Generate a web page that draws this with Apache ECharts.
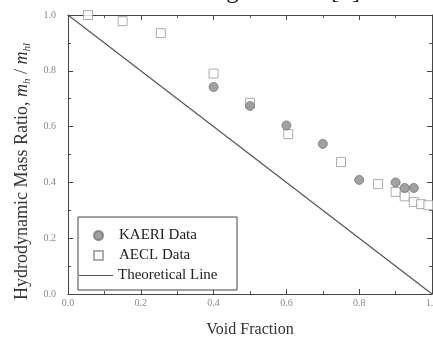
<!DOCTYPE html>
<html>
<head>
<meta charset="utf-8">
<script src="https://cdn.jsdelivr.net/npm/echarts@6/dist/echarts.min.js"></script>
<style>
  html, body { margin: 0; padding: 0; background: #fff; }
  #chart { width: 433px; height: 337px; }
</style>
</head>
<body>
<div id="chart"></div>
<script>
// KAERI measurements (void fraction, mass ratio)
const kaeriX = [0.40, 0.50, 0.60, 0.70, 0.80, 0.90, 0.925, 0.95]
const kaeriY = [0.742, 0.674, 0.604, 0.538, 0.409, 0.400, 0.380, 0.380]
// AECL measurements
const aeclX = [0.055, 0.15, 0.255, 0.40, 0.50, 0.605, 0.75, 0.852, 0.90, 0.925, 0.95, 0.97, 0.99]
const aeclY = [1.00, 0.978, 0.935, 0.790, 0.685, 0.573, 0.473, 0.394, 0.366, 0.350, 0.330, 0.322, 0.318]
// theoretical line m_h/m_hl = 1 - alpha
const theoryX = [0, 1]
const theoryY = [1, 0]

const font = 'Liberation Serif'
const chart = echarts.init(document.getElementById('chart'))

function pairs(xs, ys) {
  return xs.map((x, i) => [x, ys[i]])
}

const axisCommon = {
  min: 0,
  max: 1,
  interval: 0.2,
  axisLine: { show: true, onZero: false, lineStyle: { color: '#444', width: 1 } },
  axisTick: { show: true, inside: true, length: 5, lineStyle: { color: '#444' } },
  minorTick: { show: true, splitNumber: 2, length: 3, lineStyle: { color: '#555' } },
  splitLine: { show: false }
}

chart.setOption({
  animation: false,
  backgroundColor: '#fff',
  graphic: [{
    type: 'text',
    x: 4,
    y: -21,
    style: {
      text: 'with the result of Pettigrew et al.[1].',
      font: '25px "Liberation Serif"',
      fill: '#222'
    }
  }, {
    type: 'rect',
    shape: { x: 78, y: 217, width: 159, height: 73 },
    style: { fill: '#fff', stroke: '#444', lineWidth: 1 },
    z: 5
  }],
  grid: { left: 68, right: 1, top: 15, bottom: 43, outerBoundsMode: 'none' },
  legend: [{
    orient: 'vertical',
    left: 88,
    top: 223,
    itemWidth: 9,
    itemHeight: 9,
    itemGap: 5,
    z: 10,
    textStyle: { fontFamily: font, fontSize: 15, color: '#222', padding: [0, 0, 0, 11] },
    data: [
      { name: 'KAERI Data', icon: 'circle' },
      { name: 'AECL Data', icon: 'rect' }
    ]
  }, {
    orient: 'vertical',
    left: 74,
    top: 263,
    itemWidth: 34,
    itemHeight: 1.2,
    z: 10,
    textStyle: { fontFamily: font, fontSize: 15, color: '#222' },
    data: [{ name: 'Theoretical Line', icon: 'rect', itemStyle: { color: '#555' } }]
  }],
  xAxis: [{
    ...axisCommon,
    type: 'value',
    position: 'bottom',
    name: 'Void Fraction',
    nameLocation: 'middle',
    nameGap: 28,
    nameTextStyle: { fontFamily: font, fontSize: 16, color: '#333' },
    axisLabel: {
      margin: 4,
      fontFamily: font,
      fontSize: 10,
      color: '#888',
      formatter: v => v.toFixed(1)
    }
  }, {
    ...axisCommon,
    type: 'value',
    position: 'top',
    axisLabel: { show: false }
  }],
  yAxis: [{
    ...axisCommon,
    type: 'value',
    position: 'left',
    name: 'Hydrodynamic Mass Ratio, {i|m}{s|h}{n| / }{i|m}{s|hl}',
    nameLocation: 'middle',
    nameGap: 33,
    nameTextStyle: {
      fontFamily: font,
      fontSize: 18,
      color: '#333',
      padding: [0, 34, 0, 0],
      rich: {
        i: { fontFamily: font, fontSize: 18, fontStyle: 'italic', color: '#333' },
        s: { fontFamily: font, fontSize: 11, fontStyle: 'italic', color: '#333', padding: [9, 0, 0, 0] },
        n: { fontFamily: font, fontSize: 18, color: '#333' }
      }
    },
    axisLabel: {
      margin: 12,
      fontFamily: font,
      fontSize: 10,
      color: '#888',
      formatter: v => v.toFixed(1)
    }
  }, {
    ...axisCommon,
    type: 'value',
    position: 'right',
    axisLabel: { show: false }
  }],
  series: [{
    name: 'Theoretical Line',
    type: 'line',
    data: pairs(theoryX, theoryY),
    symbol: 'none',
    itemStyle: { color: '#555' },
    lineStyle: { color: '#555', width: 1.2 },
    z: 2
  }, {
    name: 'AECL Data',
    type: 'scatter',
    data: pairs(aeclX, aeclY),
    symbol: 'rect',
    symbolSize: 9,
    itemStyle: { color: '#fff', borderColor: '#999', borderWidth: 1 },
    z: 3
  }, {
    name: 'KAERI Data',
    type: 'scatter',
    data: pairs(kaeriX, kaeriY),
    symbol: 'circle',
    symbolSize: 9,
    itemStyle: { color: '#8a8a8a', borderColor: '#777', borderWidth: 1 },
    z: 4
  }]
})
</script>
</body>
</html>
